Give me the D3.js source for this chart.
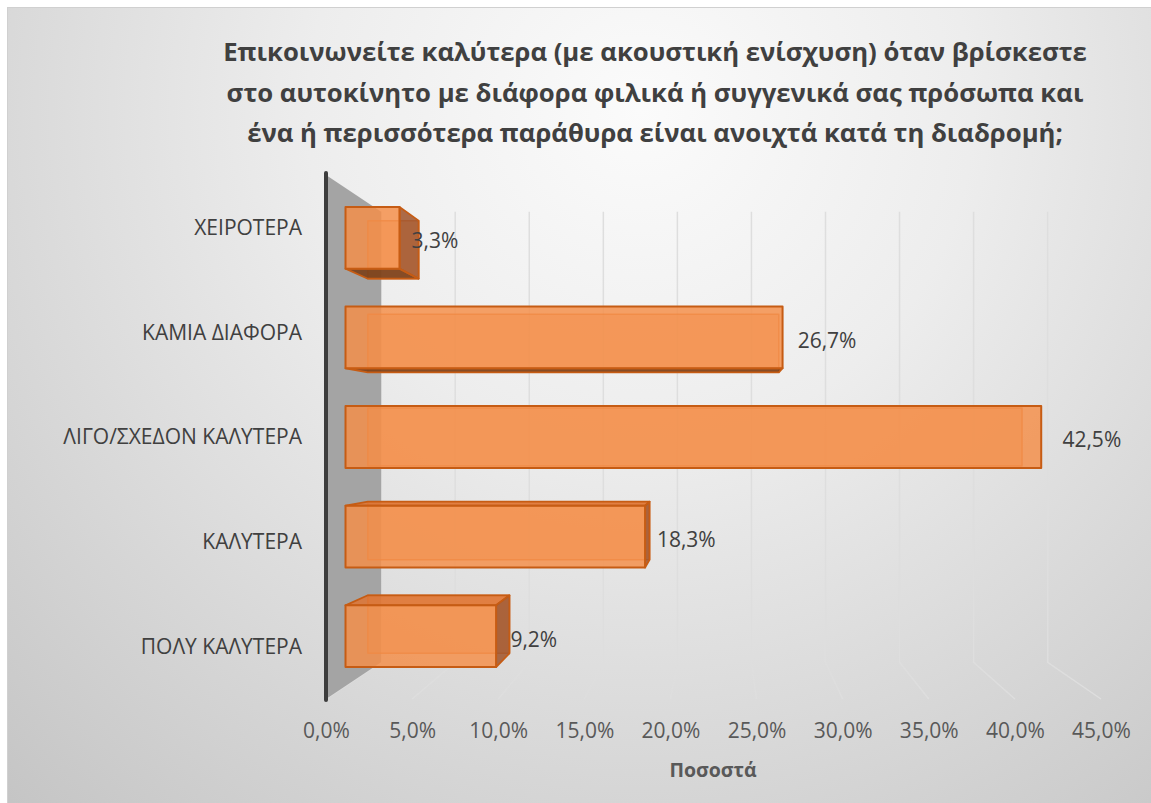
<!DOCTYPE html>
<html>
<head>
<meta charset="utf-8">
<script src="https://cdn.jsdelivr.net/npm/d3@7"></script>
<style>
  html, body { margin: 0; padding: 0; background: #ffffff; }
  svg { display: block; font-family: "Open Sans", "Noto Sans", sans-serif; }
</style>
</head>
<body>
<svg id="chart" width="1151" height="803"></svg>
<script>
// ---- data ----
const categories = ["ΧΕΙΡΟΤΕΡΑ", "ΚΑΜΙΑ ΔΙΑΦΟΡΑ", "ΛΙΓΟ/ΣΧΕΔΟΝ ΚΑΛΥΤΕΡΑ", "ΚΑΛΥΤΕΡΑ", "ΠΟΛΥ ΚΑΛΥΤΕΡΑ"];
const values = [3.3, 26.7, 42.5, 18.3, 9.2];
const tickValues = [0, 5, 10, 15, 20, 25, 30, 35, 40, 45];
const titleLines = [
  "Επικοινωνείτε καλύτερα (με ακουστική ενίσχυση) όταν βρίσκεστε",
  "στο αυτοκίνητο με διάφορα φιλικά ή συγγενικά σας πρόσωπα και",
  "ένα ή περισσότερα παράθυρα είναι ανοιχτά κατά τη διαδρομή;"
];
const axisTitle = "Ποσοστά";

// ---- layout ----
const W = 1151, H = 803;
const svg = d3.select("#chart");
const FONT = "\"Open Sans\", \"Noto Sans\", sans-serif";

// Greek number formatting: comma as decimal separator
const locale = d3.formatLocale({ decimal: ",", thousands: ".", grouping: [3], currency: ["", " €"] });
const pct = v => locale.format(".1f")(v) + "%";

// front plane scales
const x = d3.scaleLinear().domain([0, 45]).range([326, 1101]);
const y = d3.scaleBand().domain(categories).range([175, 699])
  .paddingInner(0.38).paddingOuter(0.19);

// one-point perspective: depth 0 = front plane, depth 1 = back wall
const VX = 720, VY = 437, K = 0.86, C = 1 / K - 1;
const proj = (X, Y, d) => {
  const s = 1 / (1 + C * d);
  return [VX + s * (X - VX), VY + s * (Y - VY)];
};
const poly = pts => pts.map(p => proj(p[0], p[1], p[2]).join(",")).join(" ");

// ---- background ----
const defs = svg.append("defs");
const bg = defs.append("radialGradient").attr("id", "bg")
  .attr("gradientUnits", "userSpaceOnUse")
  .attr("cx", 640).attr("cy", 110).attr("r", 950);
bg.append("stop").attr("offset", 0).attr("stop-color", "#fbfbfb");
bg.append("stop").attr("offset", 0.35).attr("stop-color", "#ededed");
bg.append("stop").attr("offset", 1).attr("stop-color", "#c4c4c4");

svg.append("rect")
  .attr("x", 7.5).attr("y", 7.5).attr("width", W).attr("height", H)
  .attr("fill", "url(#bg)").attr("stroke", "#d0d0d0").attr("stroke-width", 1);

// ---- title ----
svg.append("g").selectAll("text").data(titleLines).join("text")
  .attr("x", 655).attr("y", (d, i) => 61 + i * 40.5)
  .attr("text-anchor", "middle")
  .attr("font-size", 25.7).attr("font-weight", 700)
  .attr("fill", "#404040")
  .text(d => d);

// ---- gridlines on back wall and floor ----
const y0 = y.range()[0], y1 = y.range()[1];
svg.append("g").selectAll("path").data(tickValues).join("path")
  .attr("d", v => {
    const a = proj(x(v), y0, 1), b = proj(x(v), y1, 1), c = proj(x(v), y1, 0);
    return `M${a}L${b}L${c}`;
  })
  .attr("fill", "none").attr("stroke", "#dedede").attr("stroke-width", 1.5);

// ---- side wall ----
const xz = x(0);
svg.append("polygon")
  .attr("points", poly([[xz, y0, 0], [xz, y0, 1], [xz, y1, 1], [xz, y1, 0]]))
  .attr("fill", "#a4a4a4");
svg.append("line")
  .attr("x1", xz).attr("x2", xz).attr("y1", y0 - 2).attr("y2", y1 + 1)
  .attr("stroke", "#3d3d3d").attr("stroke-width", 4).attr("stroke-linecap", "round");

// ---- 3D bars ----
const D1 = 0.32, D2 = 0.73;
const edge = "#c65c14";
const barsG = svg.append("g");
categories.forEach((cat, i) => {
  const X0 = x(0), X1 = x(values[i]);
  const Y0 = y(cat), Y1 = Y0 + y.bandwidth();
  const g = barsG.append("g");
  const faces = {
    back:   [[X0, Y0, D2], [X1, Y0, D2], [X1, Y1, D2], [X0, Y1, D2]],
    front:  [[X0, Y0, D1], [X1, Y0, D1], [X1, Y1, D1], [X0, Y1, D1]],
    top:    [[X0, Y0, D1], [X1, Y0, D1], [X1, Y0, D2], [X0, Y0, D2]],
    bottom: [[X0, Y1, D1], [X1, Y1, D1], [X1, Y1, D2], [X0, Y1, D2]],
    right:  [[X1, Y0, D1], [X1, Y1, D1], [X1, Y1, D2], [X1, Y0, D2]]
  };
  const visible = {
    top: Y0 > VY,
    bottom: Y1 < VY,
    right: X1 < VX
  };
  // far face, seen through the translucent front
  g.append("polygon").attr("points", poly(faces.back))
    .attr("fill", "#ed7d31").attr("fill-opacity", 0.4)
    .attr("stroke", "#d8671f").attr("stroke-opacity", 0.75).attr("stroke-width", 1.5)
    .attr("stroke-linejoin", "round");
  const sideStyle = {
    top:    { fill: "#df7433", op: 0.85 },
    bottom: { fill: "#7a3f18", op: 0.9 },
    right:  { fill: "#a0542a", op: 0.85 }
  };
  ["top", "bottom", "right"].forEach(k => {
    if (!visible[k]) return;
    g.append("polygon").attr("points", poly(faces[k]))
      .attr("fill", sideStyle[k].fill).attr("fill-opacity", sideStyle[k].op)
      .attr("stroke", edge).attr("stroke-width", 1.8).attr("stroke-linejoin", "round");
  });
  g.append("polygon").attr("points", poly(faces.front))
    .attr("fill", "#f48f4a").attr("fill-opacity", 0.84)
    .attr("stroke", edge).attr("stroke-width", 2).attr("stroke-linejoin", "round");
});

// ---- data labels ----
const LD = 0.17;
svg.append("g").selectAll("text").data(categories).join("text")
  .attr("x", (c, i) => proj(x(values[i]), 0, LD)[0] + 43)
  .attr("y", c => proj(0, y(c) + y.bandwidth() / 2, D1)[1] + 3)
  .attr("dy", "0.35em")
  .attr("text-anchor", "middle")
  .attr("font-size", 21).attr("fill", "#404040")
  .text((c, i) => pct(values[i]));

// ---- axes ----
const xAxis = svg.append("g").attr("transform", "translate(0,731)")
  .call(d3.axisBottom(x).tickValues(tickValues).tickSize(0).tickPadding(0).tickFormat(pct));
xAxis.select(".domain").remove();
xAxis.selectAll("text").attr("y", 0).attr("dy", "0.35em")
  .attr("font-size", 21).attr("fill", "#595959")
  .attr("font-family", FONT);

const yAxis = svg.append("g").attr("transform", "translate(302,0)")
  .call(d3.axisLeft(y).tickSize(0).tickPadding(0));
yAxis.select(".domain").remove();
yAxis.selectAll("text").attr("dy", "0.35em")
  .attr("font-size", 21).attr("fill", "#404040")
  .attr("font-family", FONT);

svg.append("text")
  .attr("x", 713).attr("y", 777)
  .attr("text-anchor", "middle")
  .attr("font-size", 19.5).attr("font-weight", 700).attr("fill", "#595959")
  .text(axisTitle);
</script>
</body>
</html>
